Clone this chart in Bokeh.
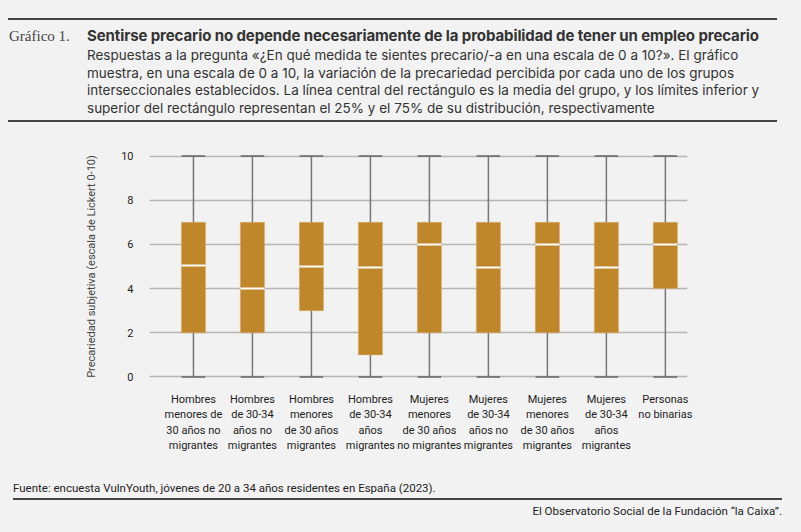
from bokeh.plotting import figure
from bokeh.layouts import column
from bokeh.models import Div, FixedTicker
from bokeh.embed import file_html
from bokeh.resources import INLINE

categories = ["Hombres\nmenores de\n30 años no\nmigrantes", "Hombres\nde 30-34\naños no\nmigrantes",
              "Hombres\nmenores\nde 30 años\nmigrantes", "Hombres\nde 30-34\naños\nmigrantes",
              "Mujeres\nmenores\nde 30 años\nno migrantes", "Mujeres\nde 30-34\naños no\nmigrantes",
              "Mujeres\nmenores\nde 30 años\nmigrantes", "Mujeres\nde 30-34\naños\nmigrantes",
              "Personas\nno binarias"]
wmin = [0, 0, 0, 0, 0, 0, 0, 0, 0]
q1 = [2, 2, 3, 1, 2, 2, 2, 2, 4]
med = [5.05, 4.0, 5.0, 4.95, 6.0, 4.95, 6.0, 4.95, 6.0]
q3 = [7, 7, 7, 7, 7, 7, 7, 7, 7]
wmax = [10, 10, 10, 10, 10, 10, 10, 10, 10]
yticks = [0, 2, 4, 6, 8, 10]

BG = "#f2f2f2"
FONT = "Inter"
xs = list(range(len(categories)))

header = Div(width=769, height=104, margin=(18, 0, 0, 8),
             styles={"background": BG, "border-top": "2px solid #444", "border-bottom": "2px solid #444"},
             text=f"""
<div style="position:relative;width:769px;height:100px;font-family:{FONT};color:#333;">
<div style="position:absolute;left:1px;top:6px;font-family:'Liberation Serif';font-size:15px;color:#444;">Gráfico 1.</div>
<div style="position:absolute;left:79px;top:5px;font-size:15px;font-weight:bold;letter-spacing:-0.1px;white-space:nowrap;">Sentirse precario no depende necesariamente de la probabilidad de tener un empleo precario</div>
<div style="position:absolute;left:79px;top:27px;width:694px;font-size:13.5px;line-height:17.5px;">Respuestas a la pregunta «¿En qué medida te sientes precario/-a en una escala de 0 a 10?». El gráfico muestra, en una escala de 0 a 10, la variación de la precariedad percibida por cada uno de los grupos interseccionales establecidos. La línea central del rectángulo es la media del grupo, y los límites inferior y superior del rectángulo representan el 25% y el 75% de su distribución, respectivamente</div>
</div>""")

p = figure(width=785, height=353, output_backend="svg", toolbar_location=None,
           x_range=(-0.745, 8.375), y_range=(-0.25, 10.25),
           min_border_left=149, min_border_right=98, min_border_top=28, min_border_bottom=93,
           background_fill_color=BG, border_fill_color=BG, outline_line_color=None)
p.segment(xs, wmin, xs, wmax, line_color="#777777", line_width=1.5)
p.segment([x - 0.2 for x in xs], wmin, [x + 0.2 for x in xs], wmin, line_color="#666666", line_width=1.5)
p.segment([x - 0.2 for x in xs], wmax, [x + 0.2 for x in xs], wmax, line_color="#666666", line_width=1.5)
p.vbar(x=xs, bottom=q1, top=q3, width=0.41, fill_color="#c0862a", line_color="#d9b070", line_width=0.5)
p.segment([x - 0.205 for x in xs], med, [x + 0.205 for x in xs], med, line_color="white", line_width=2)

p.xgrid.grid_line_color = None
p.ygrid.grid_line_color = "#b5b5b5"
p.ygrid.grid_line_width = 1.5
p.yaxis.ticker = FixedTicker(ticks=yticks)
p.xaxis.ticker = FixedTicker(ticks=xs)
p.xaxis.major_label_overrides = {i: c for i, c in enumerate(categories)}
for ax in (p.xaxis, p.yaxis):
    ax.axis_line_color = None
    ax.major_tick_line_color = None
    ax.minor_tick_line_color = None
    ax.major_label_text_font = "Roboto"
    ax.major_label_text_font_size = "11px"
    ax.major_label_text_color = "#222"
p.yaxis.major_label_standoff = 10
p.xaxis.major_label_standoff = 4
p.yaxis.axis_label = "Precariedad subjetiva (escala de Lickert 0-10)"
p.yaxis.axis_label_text_font = "Roboto"
p.yaxis.axis_label_text_font_style = "normal"
p.yaxis.axis_label_text_font_size = "11px"
p.yaxis.axis_label_standoff = 20

footer = Div(width=785, height=36, styles={"background": BG}, text=f"""
<div style="position:relative;width:785px;height:36px;font-family:Roboto;font-size:11.5px;color:#222;">
<div style="position:absolute;left:8px;top:0px;">Fuente: encuesta VulnYouth, jóvenes de 20 a 34 años residentes en España (2023).</div>
<div style="position:absolute;left:8px;top:18px;width:769px;height:1.5px;background:#444;"></div>
<div style="position:absolute;right:8px;top:23px;">El Observatorio Social de la Fundación “la Caixa”.</div>
</div>""")

layout = column(header, p, footer, spacing=0, styles={"background": BG})
html = file_html(layout, INLINE).replace("<body>", f"<body style='background:{BG}'>")
open("out.html", "w").write(html)
